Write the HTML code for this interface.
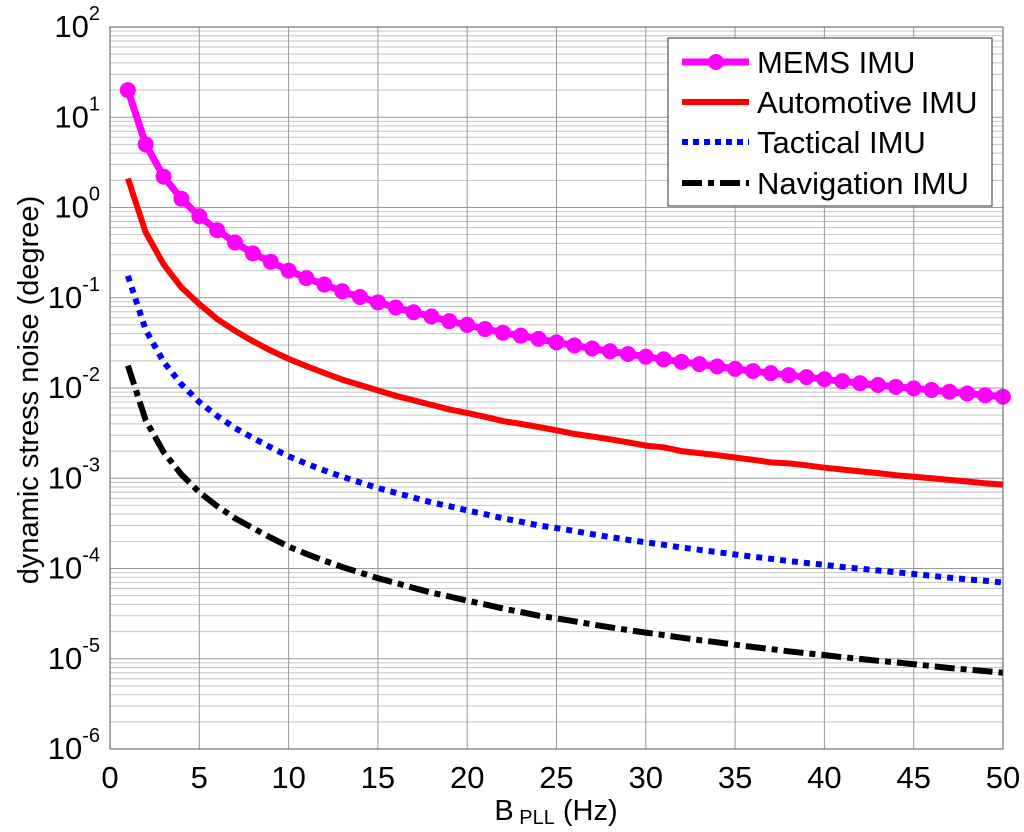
<!DOCTYPE html>
<html><head><meta charset="utf-8">
<style>
html,body{margin:0;padding:0;background:#fff;}
svg{display:block;font-family:"Liberation Sans",Arial,sans-serif;}
</style></head>
<body>
<svg id="chart" width="1024" height="832" viewBox="0 0 1024 832" xmlns="http://www.w3.org/2000/svg">
<g id="grid"></g>
<g id="series"></g>
<rect x="110" y="27" width="893" height="722" fill="none" stroke="#555" stroke-width="1"/>
<g id="xticks"></g>
<g id="yticks"></g>
<text x="556" y="820" font-size="29" text-anchor="middle">B<tspan font-size="20" dy="4"> PLL</tspan><tspan dy="-4"> (Hz)</tspan></text>
<text transform="translate(38,390) rotate(-90)" font-size="29" text-anchor="middle">dynamic stress noise (degree)</text>
<g>
<rect x="668" y="38" width="324" height="168" fill="#fff" stroke="#333" stroke-width="1"/>
<g>
<line x1="682" y1="62" x2="749" y2="62" stroke="#ff00ff" stroke-width="7"/>
<circle cx="716" cy="62" r="8" fill="#ff00ff"/>
<text x="757" y="73" font-size="31">MEMS IMU</text></g>
<g>
<line x1="682" y1="102" x2="749" y2="102" stroke="#ff0000" stroke-width="6"/>
<text x="757" y="113" font-size="31">Automotive IMU</text></g>
<g>
<line x1="682" y1="142" x2="749" y2="142" stroke="#0000ff" stroke-width="6" stroke-dasharray="6 5"/>
<text x="757" y="153" font-size="31">Tactical IMU</text></g>
<g>
<line x1="682" y1="183" x2="749" y2="183" stroke="#000" stroke-width="6" stroke-dasharray="20 6 6 6"/>
<text x="757" y="194" font-size="31">Navigation IMU</text></g>
</g>
</svg>
<script>
const bandwidth = [1,2,3,4,5,6,7,8,9,10,11,12,13,14,15,16,17,18,19,20,21,22,23,24,25,26,27,28,29,30,31,32,33,34,35,36,37,38,39,40,41,42,43,44,45,46,47,48,49,50];
const memsIMU = [20,5,2.2,1.25,0.8,0.56,0.41,0.31,0.25,0.2,0.165,0.14,0.118,0.102,0.089,0.078,0.069,0.062,0.055,0.05,0.045,0.041,0.038,0.035,0.032,0.0296,0.0274,0.0255,0.0238,0.0222,0.0208,0.0195,0.0184,0.0173,0.0163,0.0154,0.0146,0.0139,0.0132,0.0125,0.0119,0.0113,0.0108,0.0103,0.0099,0.0095,0.0091,0.0087,0.0083,0.008];
const automotiveIMU = [2.1,0.53,0.235,0.13,0.085,0.058,0.043,0.033,0.026,0.021,0.0175,0.0147,0.0124,0.0108,0.0094,0.0082,0.0073,0.0065,0.0058,0.0053,0.0048,0.0043,0.004,0.0037,0.0034,0.0031,0.0029,0.0027,0.0025,0.0023,0.0022,0.002,0.0019,0.0018,0.0017,0.0016,0.0015,0.00146,0.00139,0.00131,0.00125,0.00119,0.00114,0.00108,0.00104,0.001,0.00096,0.00092,0.00088,0.00085];
const tacticalIMU = [0.175,0.044,0.0195,0.011,0.007,0.0049,0.0036,0.0028,0.0022,0.00175,0.00145,0.00122,0.00104,0.0009,0.00078,0.00069,0.00061,0.00054,0.00049,0.00044,0.0004,0.00036,0.00033,0.0003,0.00028,0.00026,0.00024,0.000223,0.000208,0.000195,0.000183,0.000171,0.000161,0.000152,0.000143,0.000135,0.000128,0.000121,0.000115,0.00011,0.000104,0.0000995,0.000095,0.000091,0.000087,0.000083,0.000079,0.000076,0.000073,0.00007];
const navigationIMU = [0.0177,0.0044,0.00195,0.0011,0.0007,0.00049,0.00036,0.00028,0.00022,0.000175,0.000145,0.000122,0.000104,0.00009,0.000078,0.000069,0.000061,0.000054,0.000049,0.000044,0.00004,0.000036,0.000033,0.00003,0.000028,0.000026,0.000024,0.0000223,0.0000208,0.0000195,0.0000183,0.0000171,0.0000161,0.0000152,0.0000143,0.0000135,0.0000128,0.0000121,0.0000115,0.000011,0.0000104,0.00000995,0.0000095,0.0000091,0.0000087,0.0000083,0.0000079,0.0000076,0.0000073,0.000007];
const xTicks = [0,5,10,15,20,25,30,35,40,45,50];
const yExponents = [2,1,0,-1,-2,-3,-4,-5,-6];

const NS = "http://www.w3.org/2000/svg";
const X0 = 110, X1 = 1003, Y0 = 27, Y1 = 749;
const xMin = 0, xMax = 50, yMinExp = -6, yMaxExp = 2;
function xs(v){ return X0 + (v - xMin) / (xMax - xMin) * (X1 - X0); }
function ys(v){ return Y0 + (yMaxExp - Math.log10(v)) / (yMaxExp - yMinExp) * (Y1 - Y0); }
function mk(tag, attrs, parent){
  const e = document.createElementNS(NS, tag);
  for (const k in attrs) e.setAttribute(k, attrs[k]);
  parent.appendChild(e);
  return e;
}
const grid = document.getElementById('grid');
for (let e = yMinExp; e < yMaxExp; e++) {
  for (let m = 1; m <= 9; m++) {
    const v = m * Math.pow(10, e);
    const y = ys(v);
    const gl = mk('line', {x1: X0, x2: X1, y1: y, y2: y, stroke: m === 1 ? '#999' : '#c4c4c4', 'stroke-width': 1}, grid);
    
    
  }
}
xTicks.forEach(t => {
  const x = xs(t);
  const gl = mk('line', {x1: x, x2: x, y1: Y0, y2: Y1, stroke: '#999', 'stroke-width': 1}, grid);
  
  
});
const xt = document.getElementById('xticks');
xTicks.forEach(t => {
  const tx = mk('text', {x: xs(t), y: 788, 'font-size': 31, 'text-anchor': 'middle'}, xt);
  tx.textContent = t;
  
  
});
const yt = document.getElementById('yticks');
yExponents.forEach(e => {
  const y = ys(Math.pow(10, e));
  const tx = mk('text', {x: 100, y: y + 10, 'font-size': 31, 'text-anchor': 'end'}, yt);
  
  
  const b = document.createElementNS(NS, 'tspan'); b.textContent = '10'; tx.appendChild(b);
  const s = document.createElementNS(NS, 'tspan'); s.setAttribute('dy', '-17'); s.setAttribute('font-size', '20'); s.textContent = e; tx.appendChild(s);
});
const ser = document.getElementById('series');
function pts(arr){ return arr.map((v, i) => xs(bandwidth[i]).toFixed(1) + ',' + ys(v).toFixed(1)).join(' '); }
const nav = mk('polyline', {points: pts(navigationIMU), fill: 'none', stroke: '#000', 'stroke-width': 6, 'stroke-dasharray': '20 6 6 6'}, ser);


const tac = mk('polyline', {points: pts(tacticalIMU), fill: 'none', stroke: '#0000ff', 'stroke-width': 6, 'stroke-dasharray': '6 6'}, ser);


const aut = mk('polyline', {points: pts(automotiveIMU), fill: 'none', stroke: '#ff0000', 'stroke-width': 6}, ser);


const mem = mk('polyline', {points: pts(memsIMU), fill: 'none', stroke: '#ff00ff', 'stroke-width': 7}, ser);


memsIMU.forEach((v, i) => {
  const c = mk('circle', {cx: xs(bandwidth[i]), cy: ys(v), r: 8, fill: '#ff00ff'}, ser);
  
  
});
</script>
</body></html>
